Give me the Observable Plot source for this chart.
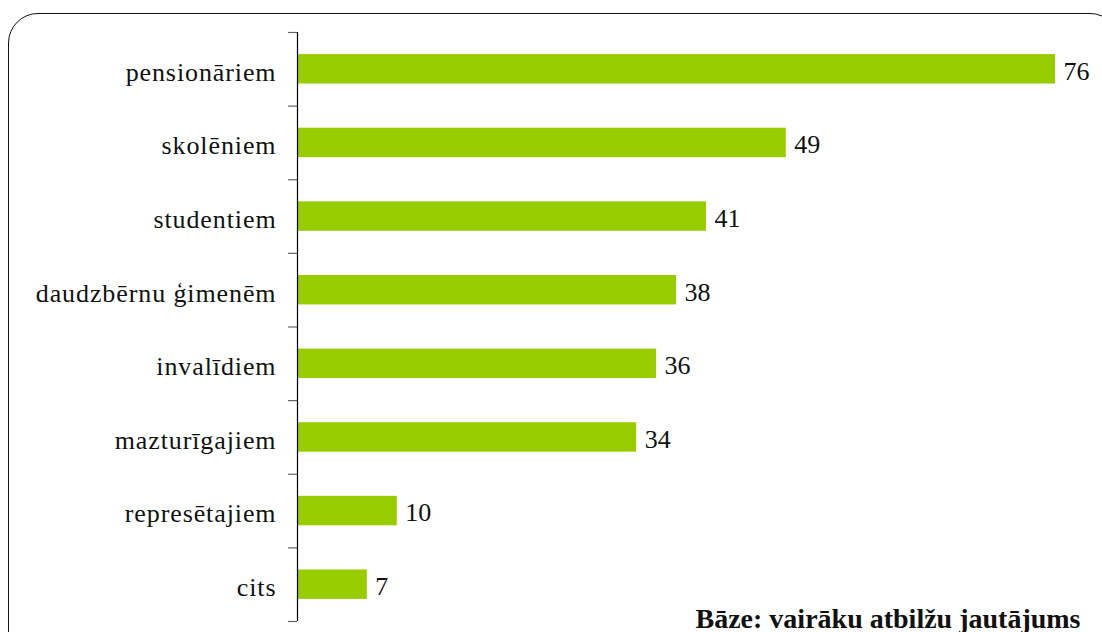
<!DOCTYPE html>
<html>
<head>
<meta charset="utf-8">
<script src="https://cdn.jsdelivr.net/npm/d3@7"></script>
<script src="https://cdn.jsdelivr.net/npm/@observablehq/plot@0.6"></script>
<style>
  html, body { margin: 0; padding: 0; background: #fff; overflow: hidden; width: 1102px; height: 632px; }
  #frame { position: absolute; left: 8px; top: 13px; width: 1112px; height: 650px; border: 1.5px solid #111; border-radius: 30px; box-sizing: border-box; }
  #chart { position: absolute; left: 0; top: 0; }
  #chart g[aria-label="y-axis tick label"] text { letter-spacing: 0.9px; }
  #chart g[aria-label="footnote"] text { letter-spacing: 0.3px; }
</style>
</head>
<body>
<div id="frame"></div>
<div id="chart"></div>
<script>
const categories = ["pensionāriem", "skolēniem", "studentiem", "daudzbērnu ģimenēm", "invalīdiem", "mazturīgajiem", "represētajiem", "cits"];
const values = [76, 49, 41, 38, 36, 34, 10, 7];
const footnote = "Bāze: vairāku atbilžu jautājums";

const data = categories.map((c, i) => ({cat: c, i, v: values[i]}));
const boundaries = d3.range(categories.length + 1).map(i => i - 0.5);

const chart = Plot.plot({
  width: 1102,
  height: 632,
  marginLeft: 297,
  marginRight: 7,
  marginTop: 32,
  marginBottom: 11,
  style: {fontFamily: "'Liberation Serif', 'Times New Roman', serif", fontSize: "26px", color: "#000", background: "transparent"},
  x: {domain: [0, 80], axis: null},
  y: {domain: [-0.5, categories.length - 0.5], reverse: true, axis: null},
  marks: [
    Plot.rectX(data, {x1: 0, x2: "v", y1: d => d.i - 0.2, y2: d => d.i + 0.2, fill: "#99CC00"}),
    Plot.ruleY(boundaries, {x1: -0.9, x2: 0, stroke: "#666", strokeWidth: 1.2}),
    Plot.ruleX([0], {y1: -0.5, y2: categories.length - 0.5, stroke: "#000", strokeWidth: 1.2}),
    Plot.axisY(d3.range(categories.length), {
      tickFormat: i => categories[i], tickSize: 0, tickPadding: 21, fontSize: 26, dy: 3, fill: "#111", label: null
    }),
    Plot.text(data, {x: "v", y: "i", text: d => String(d.v), dx: 8, dy: 2, textAnchor: "start", fontSize: 26, fill: "#111"}),
    Plot.text([footnote], {frameAnchor: "bottom-right", text: d => d, dx: -15, dy: 6, fontSize: 28, fontWeight: "bold", fill: "#111", ariaLabel: "footnote"})
  ]
});
document.getElementById("chart").appendChild(chart);
</script>
</body>
</html>
